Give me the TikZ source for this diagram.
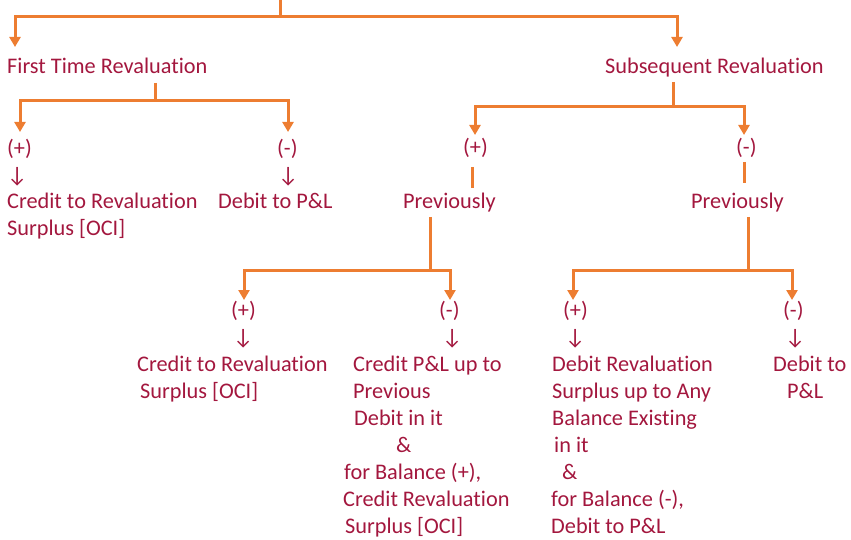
\documentclass[tikz,border=0pt]{standalone}
\usepackage{fontspec}
\setmainfont[Ligatures=NoCommon]{Carlito}
\usetikzlibrary{arrows.meta}
\definecolor{txtred}{HTML}{A3173E}
\definecolor{linkorange}{HTML}{ED7D31}
\newcommand{\dnarrow}{↓}
\tikzset{
  lbl/.style={anchor=base west, inner sep=0pt, text=txtred, align=left,
              font=\fontsize{22.3}{27}\selectfont},
  link/.style={draw=linkorange, line width=3pt},
  arr/.style={link, -{Triangle[width=11pt,length=10pt]}},
}
\begin{document}
\begin{tikzpicture}[x=1pt,y=-1pt]
\useasboundingbox (0,0) rectangle (851,540);
% multi-line labels are placed by the baseline of their last line

% ---- level 1
\coordinate (top) at (280,0);
\node[lbl] (ftr) at (7,74) {First Time Revaluation};
\node[lbl] (sub) at (605,74) {Subsequent Revaluation};
\coordinate (ftrIn) at (15,47);
\coordinate (subIn) at (677,47);
\draw[link] (top) -- (280,17) coordinate (topBar);
\draw[arr] (topBar) -| (ftrIn);
\draw[arr] (topBar) -| (subIn);

% ---- first time revaluation
\node[lbl] (ftP) at (7,236) {(+)\\\dnarrow\\Credit to Revaluation\\Surplus [OCI]};
\node[lbl] (ftM) at (218,209) {\hspace*{59pt}(-)\\\hspace*{60pt}\dnarrow\\Debit to P\&L};
\coordinate (ftOut) at (155,83);
\coordinate (ftPIn) at (20,132);
\coordinate (ftMIn) at (288,132);
\draw[link] (ftOut) -- (155,101) coordinate (ftBar);
\draw[arr] (ftBar) -| (ftPIn);
\draw[arr] (ftBar) -| (ftMIn);

% ---- subsequent revaluation
\node[lbl] (sbP) at (463,155) {(+)};
\node[lbl] (sbM) at (736,155) {(-)};
\node[lbl] (prP) at (403,209) {Previously};
\node[lbl] (prM) at (691,209) {Previously};
\coordinate (sbOut) at (673,82);
\coordinate (sbPIn) at (475,135);
\coordinate (sbMIn) at (744,135);
\draw[link] (sbOut) -- (673,107) coordinate (sbBar);
\draw[arr] (sbBar) -| (sbPIn);
\draw[arr] (sbBar) -| (sbMIn);
\draw[link] (472,167) coordinate (sbPOut) -- (472,188) coordinate (prPIn);
\draw[link] (744,162) coordinate (sbMOut) -- (744,183) coordinate (prMIn);

% ---- previously (+)
\node[lbl] (ppP) at (137,398) {\hspace*{94pt}(+)\\\hspace*{96pt}\dnarrow\\Credit to Revaluation\\\hspace*{3pt}Surplus [OCI]};
\node[lbl] (ppM) at (343,533) {\hspace*{96pt}(-)\\\hspace*{99pt}\dnarrow\\\hspace*{10pt}Credit P\&L up to\\\hspace*{10pt}Previous\\\hspace*{11pt}Debit in it\\\hspace*{53pt}\&\\\hspace*{1pt}for Balance (+),\\Credit Revaluation\\\hspace*{2pt}Surplus [OCI]};
\coordinate (prPOut) at (430,217);
\coordinate (ppPIn) at (244,300);
\coordinate (ppMIn) at (450,300);
\draw[link] (prPOut) -- (430,270) coordinate (ppBar);
\draw[arr] (ppBar) -| (ppPIn);
\draw[arr] (ppBar) -| (ppMIn);

% ---- previously (-)
\node[lbl] (pmP) at (551,533) {\hspace*{12pt}(+)\\\hspace*{14pt}\dnarrow\\\hspace*{1pt}Debit Revaluation\\\hspace*{1pt}Surplus up to Any\\\hspace*{1pt}Balance Existing\\\hspace*{3pt}in it\\\hspace*{11pt}\&\\for Balance (-),\\Debit to P\&L};
\node[lbl] (pmM) at (773,398) {\hspace*{10pt}(-)\\\hspace*{12pt}\dnarrow\\Debit to\\\hspace*{14pt}P\&L};
\coordinate (prMOut) at (748,217);
\coordinate (pmPIn) at (573,300);
\coordinate (pmMIn) at (792,300);
\draw[link] (prMOut) -- (748,270) coordinate (pmBar);
\draw[arr] (pmBar) -| (pmPIn);
\draw[arr] (pmBar) -| (pmMIn);
\end{tikzpicture}
\end{document}
